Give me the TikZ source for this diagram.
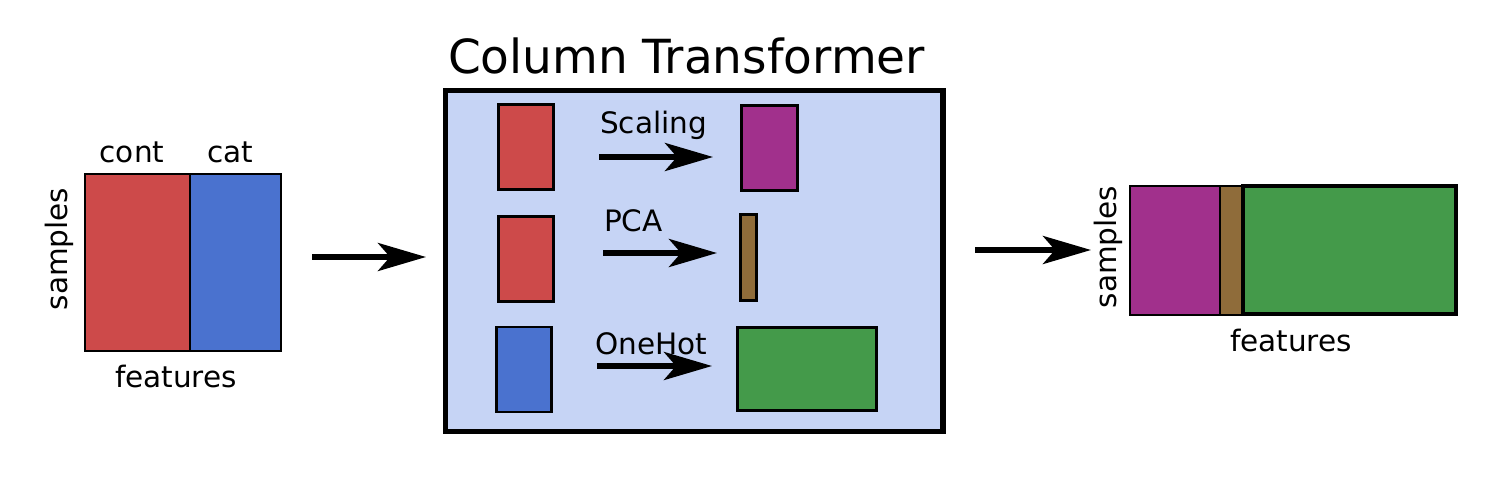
\documentclass[tikz,border=0pt]{standalone}
\usepackage{fontspec}
\setmainfont{DejaVu Sans}
\usetikzlibrary{arrows.meta}
\definecolor{cred}{HTML}{CD4A4A}
\definecolor{cblue}{HTML}{4A72CF}
\definecolor{cpurple}{HTML}{A1308C}
\definecolor{cbrown}{HTML}{8F6C3A}
\definecolor{cgreen}{HTML}{449A4A}
\definecolor{cbg}{HTML}{C6D4F5}
\tikzset{
  blk/.style={draw=black, line width=2.5pt, inner sep=0pt, outer sep=0pt, anchor=north west},
  lbl/.style={anchor=base, inner sep=0pt, font=\fontsize{29.5}{35}\selectfont},
  bigarrow/.style={line width=5.5pt, -{Stealth[length=48pt, width=28pt, inset=12pt]}},
}
\begin{document}
\begin{tikzpicture}[x=1pt, y=-1pt]
\useasboundingbox (0,0) rectangle (1508,490);
% input
\node[blk, fill=cred, minimum width=105pt, minimum height=177pt] (inred) at (85,174) {};
\node[blk, fill=cblue, minimum width=91pt, minimum height=177pt] (inblue) at (190,174) {};
\node[lbl] (tcont) at (132,162) {cont};
\node[lbl] (tcat) at (230,162) {cat};
\node[lbl] (tfeat1) at (176,387) {features};
\node[lbl, rotate=90] (tsamp1) at (67,249) {samples};
% transformer box
\node[draw=black, line width=5.5pt, fill=cbg, inner sep=0pt, outer sep=0pt, anchor=north west,
  minimum width=497.5pt, minimum height=341pt] (ct) at (445.5,90.5) {};
\node[lbl, font=\fontsize{47}{56}\selectfont] (title) at (686.5,73) {Column Transformer};
\node[blk, fill=cred, minimum width=55pt, minimum height=85pt] (r1) at (498.5,104.5) {};
\node[blk, fill=cpurple, minimum width=56pt, minimum height=85pt] (p1) at (741.5,105.5) {};
\node[blk, fill=cred, minimum width=55pt, minimum height=85pt] (r2) at (498.5,216.5) {};
\node[blk, fill=cbrown, minimum width=16pt, minimum height=86pt] (b2) at (740.5,214.5) {};
\node[blk, fill=cblue, minimum width=55pt, minimum height=85pt] (u3) at (496.5,327) {};
\node[blk, fill=cgreen, line width=3pt, minimum width=139pt, minimum height=83pt] (g3) at (737,327) {};
\node[lbl, anchor=base west] (tscal) at (600,133) {Scaling};
\node[lbl, anchor=base west] (tpca) at (604,231) {PCA};
\node[lbl, anchor=base west] (tone) at (595,354) {OneHot};
\coordinate (a1s) at (599,157); \coordinate (a1e) at (713,157);
\coordinate (a2s) at (603,253); \coordinate (a2e) at (717,253);
\coordinate (a3s) at (597,366); \coordinate (a3e) at (712,366);
\draw[bigarrow] (a1s) -- (a1e);
\draw[bigarrow] (a2s) -- (a2e);
\draw[bigarrow] (a3s) -- (a3e);
% connectors
\coordinate (l1s) at (312,257); \coordinate (l1e) at (426,257);
\coordinate (l2s) at (975,250); \coordinate (l2e) at (1091,250);
\draw[bigarrow] (l1s) -- (l1e);
\draw[bigarrow] (l2s) -- (l2e);
% output
\node[blk, fill=cpurple, minimum width=90pt, minimum height=129pt] (opur) at (1130,186) {};
\node[blk, fill=cbrown, minimum width=23pt, minimum height=129pt] (obr) at (1220,186) {};
\node[blk, fill=cgreen, line width=4pt, minimum width=213pt, minimum height=128pt] (ogr) at (1243,186) {};
\node[lbl] (tfeat2) at (1291,351) {features};
\node[lbl, rotate=90] (tsamp2) at (1116,247) {samples};
\end{tikzpicture}
\end{document}
